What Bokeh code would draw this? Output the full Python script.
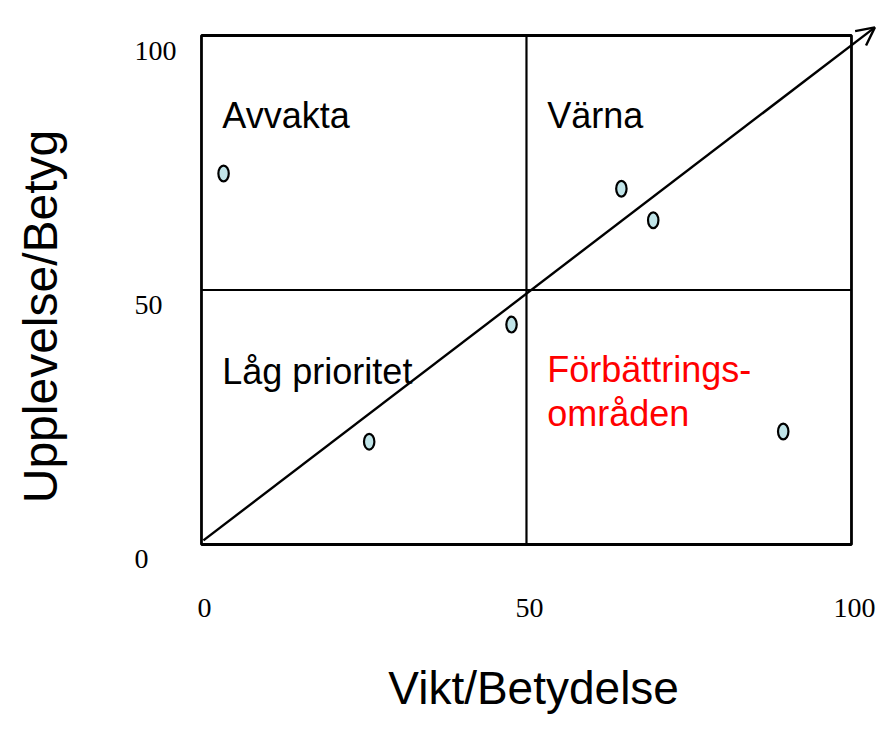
from bokeh.plotting import figure
from bokeh.models import Range1d, Arrow, OpenHead
from bokeh.core.properties import value
from bokeh.embed import file_html
from bokeh.resources import INLINE
import math

# ---- data ----
importance = [3.4, 64.6, 69.5, 47.7, 25.8, 89.5]      # Vikt/Betydelse
rating = [72.9, 69.9, 63.7, 43.2, 20.2, 22.2]          # Upplevelse/Betyg

box_min, box_max, box_mid = 0, 100, 50
tick_values = [0, 50, 100]
tick_labels = ["0", "50", "100"]

diag_start = (0.3, 0.8)
diag_end = (103.6, 101.6)

quad_labels = ["Avvakta", "Värna", "Låg prioritet"]
quad_x = [3.2, 53.2, 3.2]
quad_y = [84.3, 84.3, 34.0]
red_labels = ["Förbättrings-", "områden"]
red_x = [53.2, 53.2]
red_y = [34.4, 25.7]

x_title = "Vikt/Betydelse"
y_title = "Upplevelse/Betyg"

# ---- figure ----
p = figure(width=876, height=715,
           x_range=Range1d(-30.92, 103.85), y_range=Range1d(-33.6, 106.88),
           x_axis_type=None, y_axis_type=None,
           output_backend="svg", toolbar_location=None, min_border=0)
p.grid.visible = False
p.outline_line_color = None
p.background_fill_color = "white"

# outer box
p.quad(left=[box_min], right=[box_max], bottom=[box_min], top=[box_max],
       fill_color=None, line_color="black", line_width=2.8)
# quadrant dividers
p.segment(x0=[box_mid, box_min], y0=[box_min, box_mid],
          x1=[box_mid, box_max], y1=[box_max, box_mid],
          line_color="black", line_width=2.2)

# diagonal arrow
p.add_layout(Arrow(end=OpenHead(size=18, line_width=2.4, line_color="black"),
                   x_start=diag_start[0], y_start=diag_start[1],
                   x_end=diag_end[0], y_end=diag_end[1],
                   line_color="black", line_width=2.4))

# points
p.ellipse(x=importance, y=rating, width=1.6, height=3.1,
          fill_color="#c0e4e8", line_color="black", line_width=2.2)

# quadrant labels
p.text(x=quad_x, y=quad_y, text=quad_labels, text_font=value("Liberation Sans"),
       text_font_size="36px", text_color="black", text_baseline="middle",
       text_align="left")
p.text(x=red_x, y=red_y, text=red_labels, text_font=value("Liberation Sans"),
       text_font_size="36px", text_color="#ff0000", text_baseline="middle",
       text_align="left")

# tick labels (y)
p.text(x=[-10.3] * len(tick_values), y=tick_values, text=tick_labels,
       text_font=value("Liberation Serif"), text_font_size="28px",
       text_color="black", text_align="left", text_baseline="middle",
       y_offset=15)
# tick labels (x)
p.text(x=tick_values, y=[-12.4] * len(tick_values), text=tick_labels,
       text_font=value("Liberation Serif"), text_font_size="28px",
       text_color="black", text_align="center", text_baseline="middle",
       x_offset=3)

# axis titles
p.text(x=[51.1], y=[-28.1], text=[x_title], text_font=value("Liberation Sans"),
       text_font_size="46px", text_color="black", text_align="center",
       text_baseline="middle")
p.text(x=[-24.8], y=[44.8], text=[y_title], text_font=value("Liberation Sans"),
       text_font_size="48px", text_color="black", text_align="center",
       text_baseline="middle", angle=math.pi / 2)

open("out.html", "w").write(file_html(p, INLINE))
